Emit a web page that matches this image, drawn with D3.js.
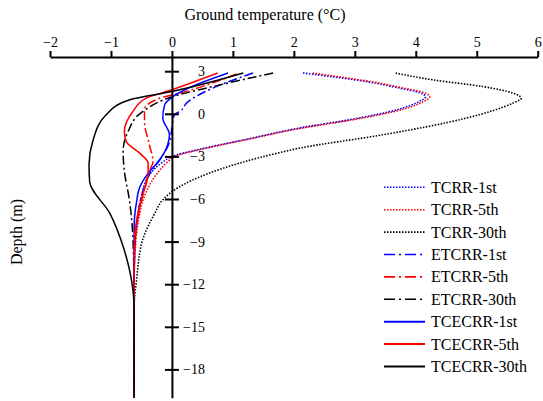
<!DOCTYPE html>
<html>
<head>
<meta charset="utf-8">
<script src="https://cdn.jsdelivr.net/npm/d3@7"></script>
</head>
<body style="margin:0">
<script>
// values: [temperature (°C), depth (m)]
const tcrr1st = [[2.15,2.87],[2.65,2.6],[3.19,2.27],[3.73,1.81],[4.06,1.5],[4.16,1.2],[4.06,0.87],[3.73,0.33],[2.91,-0.42],[2.09,-1.0],[1.27,-1.75],[0.45,-2.5],[0.0,-3.0],[-0.15,-3.4],[-0.37,-4.3],[-0.5,-5.8],[-0.57,-7.5],[-0.61,-9.5],[-0.62,-12],[-0.62,-20]];
const tcrr5th = [[2.31,2.87],[2.75,2.6],[3.26,2.27],[3.8,1.81],[4.13,1.5],[4.23,1.2],[4.13,0.87],[3.8,0.33],[2.97,-0.42],[2.14,-1.0],[1.3,-1.75],[0.49,-2.5],[0.04,-3.0],[-0.06,-3.35],[-0.26,-4.3],[-0.45,-5.8],[-0.55,-7.5],[-0.6,-9.5],[-0.62,-12],[-0.62,-20]];
const tcrr30th = [[3.67,2.87],[4.28,2.39],[5.1,1.92],[5.59,1.46],[5.73,1.1],[5.59,0.75],[4.83,-0.3],[3.46,-1.48],[2.09,-2.42],[1.75,-2.75],[0.6,-4.2],[0.1,-5.2],[-0.15,-6.06],[-0.28,-7.0],[-0.48,-8.87],[-0.58,-11.7],[-0.62,-13.6],[-0.62,-20]];
const etcrr1st = [[1.33,2.87],[0.67,1.81],[0.25,0.8],[0.13,0.16],[0.04,-0.07],[0.0,-1.0],[-0.04,-2.0],[-0.16,-3.0],[-0.36,-4.2],[-0.5,-5.8],[-0.57,-7.5],[-0.61,-9.5],[-0.62,-12],[-0.62,-20]];
const etcrr5th = [[1.06,2.8],[0.13,1.46],[-0.2,1.1],[-0.45,0.28],[-0.45,-0.54],[-0.37,-2.18],[-0.31,-3.36],[-0.37,-4.06],[-0.48,-5.8],[-0.56,-7.5],[-0.61,-9.5],[-0.62,-12],[-0.62,-20]];
const etcrr30th = [[1.66,2.87],[0.67,1.92],[0.02,1.22],[-0.48,0.16],[-0.72,-1.25],[-0.8,-2.65],[-0.78,-4.06],[-0.7,-6],[-0.65,-8],[-0.63,-10],[-0.62,-12],[-0.62,-20]];
const tcecrr1st = [[0.92,2.87],[0.02,1.22],[-0.12,0.63],[-0.15,-0.3],[-0.04,-1.48],[-0.07,-2.18],[-0.2,-3.24],[-0.39,-4.18],[-0.53,-5.2],[-0.58,-6.2],[-0.62,-8],[-0.62,-20]];
const tcecrr5th = [[0.75,2.87],[0.0,1.69],[-0.42,1.1],[-0.64,0.16],[-0.78,-1.25],[-0.75,-1.95],[-0.53,-2.77],[-0.39,-3.47],[-0.39,-4.18],[-0.5,-6.0],[-0.58,-7.5],[-0.62,-9.5],[-0.62,-20]];
const tcecrr30th = [[1.17,2.87],[0.0,1.57],[-0.69,0.99],[-1.08,-0.07],[-1.3,-1.95],[-1.36,-3.59],[-1.35,-4.77],[-1.02,-7.0],[-0.8,-9.35],[-0.64,-12.4],[-0.62,-13.6],[-0.62,-20]];

const seriesNames = ['TCRR-1st', 'TCRR-5th', 'TCRR-30th', 'ETCRR-1st', 'ETCRR-5th', 'ETCRR-30th', 'TCECRR-1st', 'TCECRR-5th', 'TCECRR-30th'];
const seriesData = [tcrr1st, tcrr5th, tcrr30th, etcrr1st, etcrr5th, etcrr30th, tcecrr1st, tcecrr5th, tcecrr30th];
const seriesColors = ['#0000ff', '#ff0000', '#000000', '#0000ff', '#ff0000', '#000000', '#0000ff', '#ff0000', '#000000'];
const seriesKinds = ['dot', 'dot', 'dot', 'dashdot', 'dashdot', 'dashdot', 'solid', 'solid', 'solid'];

const xTicks = [-2, -1, 0, 1, 2, 3, 4, 5, 6];
const yTicks = [3, 0, -3, -6, -9, -12, -15, -18];

const width = 543;
const height = 401;

const svg = d3.select('body')
  .append('svg')
  .attr('width', width)
  .attr('height', height)
  .attr('font-family', 'Liberation Serif');

const xScale = d3.scaleLinear()
  .domain([-2, 6])
  .range([50, 537.7]);

const yScale = d3.scaleLinear()
  .domain([4, -20])
  .range([57, 397.8]);

const dashFor = (kind, legend) => {
  if (kind === 'dot') return '1.5,1.5';
  if (kind === 'dashdot') return legend ? '11,4,2,4' : '9,3,2,3';
  return null;
}

//curves
const line = d3.line()
  .x(d => xScale(d[0]))
  .y(d => yScale(d[1]))
  .curve(d3.curveMonotoneY);

svg.append('g')
  .attr('class', 'curves')
  .selectAll('path')
  .data(seriesData)
  .enter()
  .append('path')
  .attr('d', line)
  .style('fill', 'none')
  .style('stroke', (d, i) => seriesColors[i])
  .style('stroke-width', (d, i) => seriesKinds[i] === 'dot' ? 1.6 : 1.5)
  .style('stroke-dasharray', (d, i) => dashFor(seriesKinds[i], false));

//top x axis
const xAxis = svg.append('g')
  .attr('transform', `translate(0, ${yScale(4)})`)
  .call(d3.axisTop(xScale)
    .tickValues(xTicks)
    .tickSizeInner(6)
    .tickSizeOuter(0)
    .tickPadding(4)
  )
  .attr('font-family', null)
  .attr('font-size', 14);

xAxis.select('.domain').style('stroke-width', 2);
xAxis.selectAll('.tick line').style('stroke-width', 2);

//y axis through zero
const yAxis = svg.append('g')
  .attr('transform', `translate(${xScale(0)}, 0)`)
  .call(d3.axisRight(yScale)
    .tickValues(yTicks)
    .tickSizeOuter(0)
  )
  .attr('font-family', null)
  .attr('font-size', 14);

yAxis.select('.domain').style('stroke-width', 2);
yAxis.selectAll('.tick line')
  .attr('x1', -7)
  .attr('x2', 7)
  .style('stroke-width', 2);
yAxis.selectAll('.tick text')
  .attr('x', 33)
  .attr('text-anchor', 'end');

//axis titles
svg.append('text')
  .attr('x', 265)
  .attr('y', 20)
  .attr('text-anchor', 'middle')
  .attr('font-size', 16)
  .text('Ground temperature (°C)');

svg.append('text')
  .attr('transform', 'translate(22, 232) rotate(-90)')
  .attr('text-anchor', 'middle')
  .attr('font-size', 16)
  .text('Depth (m)');

//legend
const legend = svg.append('g')
  .attr('class', 'legend')
  .selectAll('g')
  .data(seriesNames)
  .enter()
  .append('g')
  .attr('transform', (d, i) => `translate(384, ${187.3 + i * 22.4})`);

legend.append('line')
  .attr('x1', 0)
  .attr('x2', 41)
  .style('stroke', (d, i) => seriesColors[i])
  .style('stroke-width', (d, i) => seriesKinds[i] === 'solid' ? 2 : 1.6)
  .style('stroke-dasharray', (d, i) => dashFor(seriesKinds[i], true));

legend.append('text')
  .attr('x', 47)
  .attr('y', 5.5)
  .attr('font-size', 16)
  .text(d => d);
</script>
</body>
</html>
